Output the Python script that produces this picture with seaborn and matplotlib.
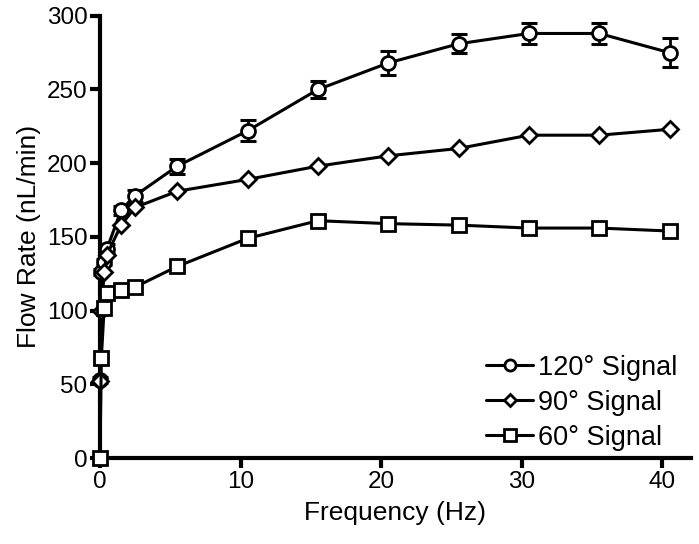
import matplotlib
matplotlib.use("Agg")
import matplotlib.pyplot as plt
import seaborn as sns
import pandas as pd
from matplotlib.lines import Line2D

# frequencies (Hz)
freq = [0, 0.1, 0.3, 0.5, 1.5, 2.5, 5.5, 10.5, 15.5, 20.5, 25.5, 30.5, 35.5, 40.5]

# flow rates (nL/min)
flow_120 = [53, 126, 133, 142, 168, 178, 198, 222, 250, 268, 281, 288, 288, 275]
err_120 = [2, 2, 2, 3, 3, 4, 5, 7, 6, 8, 6.5, 7, 7, 10]
flow_90 = [52, 100, 126, 138, 158, 170, 181, 189, 198, 205, 210, 219, 219, 223]
flow_60 = [0, 68, 102, 112, 114, 116, 130, 149, 161, 159, 158, 156, 156, 154]

labels = ["120° Signal", "90° Signal", "60° Signal"]
markers = ["o", "D", "s"]
sizes = [10, 8, 10]

df = pd.DataFrame({
    "freq": freq * 3,
    "flow": flow_120 + flow_90 + flow_60,
    "signal": [labels[0]] * len(freq) + [labels[1]] * len(freq) + [labels[2]] * len(freq),
})

sns.set_style("ticks")
plt.rcParams["font.family"] = ["Liberation Sans", "DejaVu Sans"]

fig = plt.figure(figsize=(6.99, 5.44), dpi=100)
ax = fig.add_axes([0.143, 0.158, 0.845, 0.813])

# error bars for the 120 degree series
ax.errorbar(freq, flow_120, yerr=err_120, fmt="none", ecolor="black",
            elinewidth=2, capsize=6, capthick=2.2, zorder=2, clip_on=False)

for lab, mk, ms in zip(labels, markers, sizes):
    sub = df[df["signal"] == lab]
    sns.lineplot(data=sub, x="freq", y="flow", ax=ax, color="black", linewidth=2.2,
                 marker=mk, markersize=ms, markerfacecolor="white",
                 markeredgecolor="black", markeredgewidth=2, clip_on=False,
                 zorder=3, legend=False)

ax.set_xlim(0, 42)
ax.set_ylim(0, 300)
ax.set_xticks([0, 10, 20, 30, 40])
ax.set_yticks([0, 50, 100, 150, 200, 250, 300])
sns.despine(ax=ax)
for s in ["left", "bottom"]:
    ax.spines[s].set_linewidth(3)
    ax.spines[s].set_color("black")
ax.tick_params(axis="both", width=3, length=7, labelsize=17.5, direction="out",
               pad=2, colors="black")
ax.set_xlabel("Frequency (Hz)", fontsize=19, labelpad=6, color="black")
ax.set_ylabel("Flow Rate (nL/min)", fontsize=19, labelpad=4, color="black")

handles = [Line2D([0], [0], color="black", linewidth=2.2, marker=mk,
                  markersize=ms * 0.8, markerfacecolor="white",
                  markeredgecolor="black", markeredgewidth=2)
           for mk, ms in zip(markers, sizes)]
leg = ax.legend(handles, labels, loc="lower right", bbox_to_anchor=(1.005, -0.02),
                fontsize=19.5, frameon=False, handlelength=1.7, handletextpad=0.2,
                labelspacing=0.33, borderaxespad=0.2)
for t in leg.get_texts():
    t.set_color("black")

fig.savefig("out.png", dpi=100)
